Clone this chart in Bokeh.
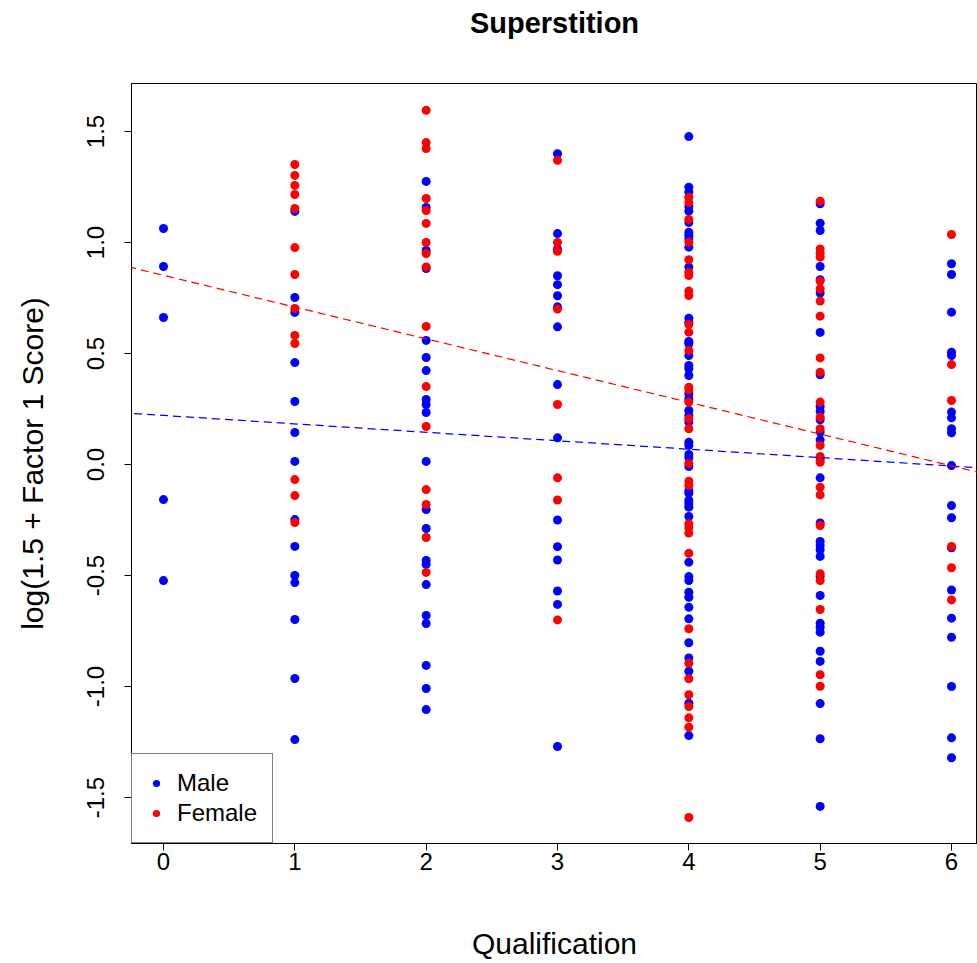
from bokeh.plotting import figure
from bokeh.models import FixedTicker, PrintfTickFormatter, Slope, Legend, LegendItem, Title
from bokeh.embed import file_html
from bokeh.resources import INLINE

# ---- data ----
qualifications = [0, 1, 2, 3, 4, 5, 6]

male_0 = [1.063, 0.892, 0.662, -0.158, -0.523]
male_1 = [1.14, 0.752, 0.685, 0.459, 0.284, 0.144, 0.014, -0.248, -0.369, -0.50, -0.532, -0.698, -0.964, -1.239]
male_2 = [1.275, 1.158, 0.964, 0.883, 0.559, 0.482, 0.423, 0.293, 0.270, 0.234, 0.014, -0.203, -0.288,
          -0.432, -0.45, -0.541, -0.680, -0.716, -0.905, -1.009, -1.104]
male_3 = [1.40, 1.04, 0.97, 0.85, 0.81, 0.76, 0.71, 0.62, 0.36, 0.12, -0.25, -0.37, -0.43, -0.57, -0.63, -1.27]
male_4 = [1.477, 1.249, 1.227, 1.162, 1.141, 1.09, 1.046, 1.031, 1.017, 0.979, 0.889, 0.659, 0.641, 0.554,
          0.544, 0.491, 0.446, 0.431, 0.401, 0.318, 0.296, 0.243, 0.221, 0.191, 0.100, 0.086, 0.045, 0.030,
          -0.009, -0.117, -0.129, -0.162, -0.177, -0.192, -0.234, -0.44, -0.505, -0.523, -0.575, -0.598,
          -0.643, -0.695, -0.803, -0.871, -0.931, -1.075, -1.221]
male_5 = [1.174, 1.087, 1.054, 0.892, 0.832, 0.772, 0.595, 0.404, 0.261, 0.239, 0.201, 0.146, 0.111, 0.021,
          -0.06, -0.263, -0.347, -0.365, -0.384, -0.414, -0.505, -0.59, -0.715, -0.733, -0.755, -0.841,
          -0.887, -1.077, -1.235, -1.54]
male_6 = [0.904, 0.856, 0.686, 0.506, 0.491, 0.236, 0.210, 0.161, 0.143, -0.005, -0.185, -0.240, -0.375,
          -0.565, -0.692, -0.778, -1.0, -1.231, -1.321]

female_1 = [1.351, 1.302, 1.257, 1.216, 1.153, 0.977, 0.856, 0.703, 0.581, 0.545, -0.068, -0.140, -0.261]
female_2 = [1.595, 1.450, 1.423, 1.198, 1.144, 1.086, 1.0, 0.950, 0.89, 0.622, 0.351, 0.171, -0.113, -0.180,
            -0.329, -0.486]
female_3 = [1.37, 1.00, 0.96, 0.70, 0.27, -0.06, -0.16, -0.70]
female_4 = [1.204, 1.18, 1.104, 1.001, 0.922, 0.866, 0.851, 0.781, 0.761, 0.631, 0.596, 0.514, 0.348, 0.336,
            0.281, 0.206, 0.161, 0.005, -0.075, -0.095, -0.267, -0.285, -0.309, -0.40, -0.74, -0.895,
            -0.965, -1.037, -1.09, -1.141, -1.183, -1.59]
female_5 = [1.186, 0.971, 0.952, 0.934, 0.826, 0.791, 0.736, 0.668, 0.480, 0.416, 0.281, 0.213, 0.161, 0.086,
            0.036, 0.010, -0.102, -0.137, -0.275, -0.492, -0.523, -0.653, -0.947, -0.999]
female_6 = [1.036, 0.450, 0.288, -0.369, -0.465, -0.610]

male_by_qual = [male_0, male_1, male_2, male_3, male_4, male_5, male_6]
female_by_qual = [[], female_1, female_2, female_3, female_4, female_5, female_6]

male_fit = {"intercept": 0.221, "slope": -0.038}
female_fit = {"intercept": 0.852, "slope": -0.143}

x_ticks = [0, 1, 2, 3, 4, 5, 6]
y_ticks = [-1.5, -1.0, -0.5, 0.0, 0.5, 1.0, 1.5]
title_text = "Superstition"

# ---- build ----
male_x, male_y = [], []
for q, vals in zip(qualifications, male_by_qual):
    male_x += [q] * len(vals)
    male_y += vals
female_x, female_y = [], []
for q, vals in zip(qualifications, female_by_qual):
    female_x += [q] * len(vals)
    female_y += vals

FONT = "Liberation Sans"

p = figure(width=977, height=963, x_range=(-0.2437, 6.198), y_range=(-1.707, 1.716),
           output_backend="svg", toolbar_location=None,
           min_border_left=131, min_border_right=0, min_border_top=83, min_border_bottom=120)
p.background_fill_color = "white"
p.border_fill_color = "white"
p.outline_line_color = "black"
p.outline_line_width = 1
p.grid.visible = False

# spacer between frame and title, then the real title above it
p.add_layout(Title(text=" ", text_font=FONT, text_font_size="29px", standoff=8), "above")
p.add_layout(Title(text=title_text, align="center", text_font=FONT, text_font_size="29px",
                   text_font_style="bold", text_color="black", standoff=5), "above")

for ax in (p.xaxis[0], p.yaxis[0]):
    ax.axis_line_color = "black"
    ax.major_tick_line_color = "black"
    ax.major_tick_out = 7
    ax.major_tick_in = 0
    ax.minor_tick_line_color = None
    ax.major_label_text_font = FONT
    ax.major_label_text_font_size = "24px"
    ax.major_label_text_color = "black"
    ax.axis_label_text_font = FONT
    ax.axis_label_text_font_size = "30px"
    ax.axis_label_text_font_style = "normal"
    ax.axis_label_text_color = "black"

p.xaxis.ticker = FixedTicker(ticks=x_ticks)
p.yaxis.ticker = FixedTicker(ticks=y_ticks)
p.yaxis.formatter = PrintfTickFormatter(format="%.1f")
p.yaxis.major_label_orientation = "vertical"
p.xaxis.major_label_standoff = 2
p.yaxis.major_label_standoff = 20
p.xaxis.axis_label = "Qualification"
p.yaxis.axis_label = "log(1.5 + Factor 1 Score)"
p.xaxis.axis_label_standoff = 54
p.yaxis.axis_label_standoff = 36

r_m = p.scatter(male_x, male_y, size=9, color="#0000FF", line_color=None)
r_f = p.scatter(female_x, female_y, size=9, color="#FF0000", line_color=None)

p.add_layout(Slope(gradient=male_fit["slope"], y_intercept=male_fit["intercept"],
                   line_color="#0000FF", line_dash="8 5", line_width=1.2))
p.add_layout(Slope(gradient=female_fit["slope"], y_intercept=female_fit["intercept"],
                   line_color="#FF0000", line_dash="8 5", line_width=1.2))

legend = Legend(items=[LegendItem(label="Male", renderers=[r_m]),
                       LegendItem(label="Female", renderers=[r_f])],
                location="bottom_left", margin=0, padding=15, spacing=2,
                glyph_width=18, glyph_height=26, label_height=26, label_width=20,
                label_standoff=12, label_text_font=FONT, label_text_font_size="24px",
                label_text_color="black",
                border_line_color="black", border_line_width=1, background_fill_alpha=1.0)
p.add_layout(legend)

open("out.html", "w").write(file_html(p, INLINE))
